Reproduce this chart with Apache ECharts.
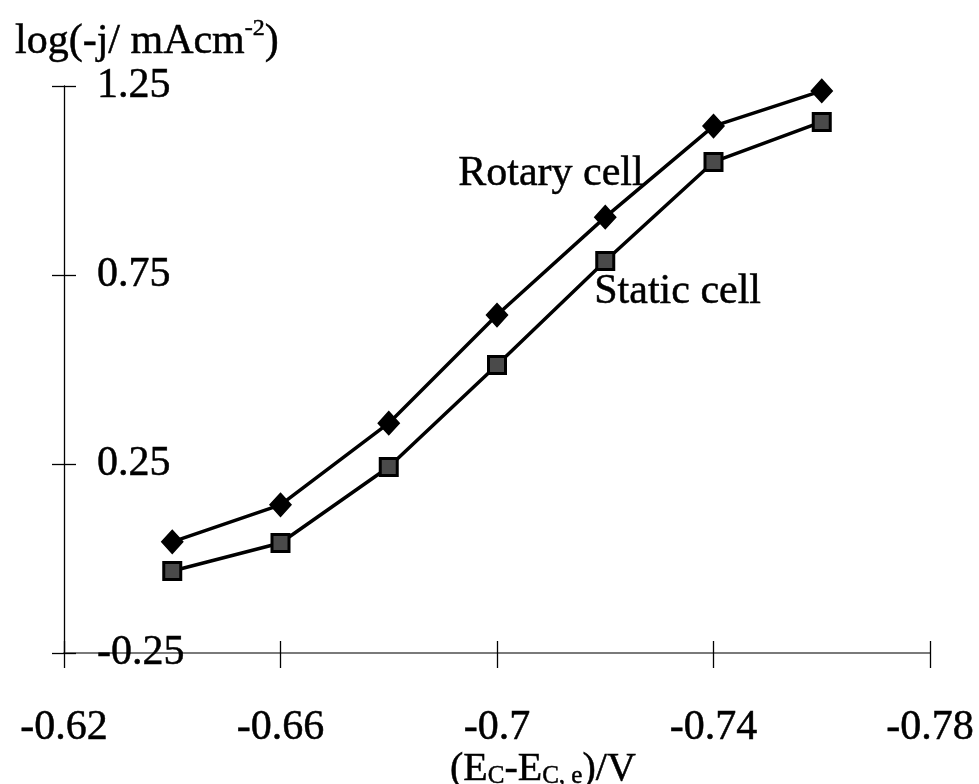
<!DOCTYPE html>
<html>
<head>
<meta charset="utf-8">
<script src="https://cdn.jsdelivr.net/npm/echarts@6/dist/echarts.min.js"></script>
<style>
  html, body { margin: 0; padding: 0; background: #fff; }
  #chart { width: 979px; height: 784px; }
</style>
</head>
<body>
<div id="chart"></div>
<script>
// Cathode potential relative to equilibrium, V
const potentials = [-0.64, -0.66, -0.68, -0.70, -0.72, -0.74, -0.76];
// log of cathodic current density, mA/cm2
const rotaryCell = [0.044, 0.142, 0.358, 0.644, 0.903, 1.144, 1.237];
const staticCell = [-0.033, 0.041, 0.242, 0.512, 0.787, 1.049, 1.155];
// axis ticks
const xTicks = [-0.62, -0.66, -0.70, -0.74, -0.78];
const yTicks = [-0.25, 0.25, 0.75, 1.25];

const FONT = "'Liberation Serif', 'DejaVu Serif', serif";
// a thin outline makes the serif text a little heavier
const INK = { color: '#000', textBorderColor: '#000', textBorderWidth: 0.5 };
const pairs = (ys) => potentials.map((x, i) => [x, ys[i]]);

const xMin = Math.min(...xTicks), xMax = Math.max(...xTicks);
const yMin = Math.min(...yTicks), yMax = Math.max(...yTicks);
const xStep = Math.abs(xTicks[1] - xTicks[0]);
const yStep = yTicks[1] - yTicks[0];

const chart = echarts.init(document.getElementById('chart'), null, { renderer: 'canvas' });

const baseX = {
  type: 'value', min: xMin, max: xMax, interval: xStep, inverse: true,
  position: 'bottom', splitLine: { show: false }
};
const baseY = {
  type: 'value', min: yMin, max: yMax, interval: yStep,
  position: 'left', splitLine: { show: false }
};
const rich = (size, lh, va) => Object.assign({
  fontFamily: FONT, fontSize: size, fontWeight: 'normal', lineHeight: lh, verticalAlign: va
}, INK);

chart.setOption({
  animation: false,
  backgroundColor: '#ffffff',
  title: [
    {
      text: '{a|log(-j/ mAcm}{s|-2}{a|)}',
      left: 10, top: 12,
      textStyle: {
        fontWeight: 'normal',
        rich: { a: rich(42, 46, 'bottom'), s: rich(24, 46, 'top') }
      }
    },
    {
      text: '{a|(E}{b|C}{a|-E}{b|C, e}{a|)/V}',
      left: 445, top: 740,
      textStyle: {
        fontWeight: 'normal',
        rich: { a: rich(40, 44, 'bottom'), b: rich(25, 38, 'bottom') }
      }
    }
  ],
  grid: { left: 64, right: 49, top: 86, bottom: 131, outerBoundsMode: 'none', containLabel: false },
  xAxis: [
    Object.assign({}, baseX, {
      axisLine: { show: true, onZero: false, lineStyle: { color: '#7a7a7a', width: 2 } },
      axisTick: { show: true, inside: false, length: 15, lineStyle: { color: '#000', width: 1.3 } },
      axisLabel: Object.assign({
        show: true, margin: 54, fontFamily: FONT, fontSize: 42,
        showMinLabel: true, showMaxLabel: true,
        formatter: (v) => String(+v.toFixed(2))
      }, INK)
    }),
    Object.assign({}, baseX, {
      axisLine: { show: false, onZero: false },
      axisTick: { show: true, inside: true, length: 12, lineStyle: { color: '#000', width: 1.3 } },
      axisLabel: { show: false }
    })
  ],
  yAxis: [
    Object.assign({}, baseY, {
      axisLine: { show: true, onZero: false, lineStyle: { color: '#000', width: 1.3 } },
      axisTick: { show: true, inside: false, length: 12, lineStyle: { color: '#000', width: 1.3 } },
      axisLabel: Object.assign({
        show: true, inside: true, margin: 33, fontFamily: FONT, fontSize: 42,
        showMinLabel: true, showMaxLabel: true,
        formatter: (v) => v.toFixed(2)
      }, INK)
    }),
    Object.assign({}, baseY, {
      axisLine: { show: false, onZero: false },
      axisTick: { show: true, inside: true, length: 12, lineStyle: { color: '#000', width: 1.3 } },
      axisLabel: { show: false }
    })
  ],
  graphic: [
    { type: 'text', left: 458, top: 153,
      style: { text: 'Rotary cell', font: '42px ' + FONT, fill: '#000', stroke: '#000', lineWidth: 0.5 } },
    { type: 'text', left: 594, top: 271,
      style: { text: 'Static cell', font: '42px ' + FONT, fill: '#000', stroke: '#000', lineWidth: 0.5 } }
  ],
  series: [
    {
      name: 'Rotary cell', type: 'line', xAxisIndex: 0, yAxisIndex: 0,
      data: pairs(rotaryCell),
      symbol: 'diamond', symbolSize: [21, 23],
      lineStyle: { color: '#000', width: 3.5 },
      itemStyle: { color: '#000', borderColor: '#000', borderWidth: 1.5 },
      z: 3
    },
    {
      name: 'Static cell', type: 'line', xAxisIndex: 0, yAxisIndex: 0,
      data: pairs(staticCell),
      symbol: 'rect', symbolSize: 17,
      lineStyle: { color: '#000', width: 3.5 },
      itemStyle: { color: '#4a4a4a', borderColor: '#000', borderWidth: 3 },
      z: 3
    }
  ]
});
</script>
</body>
</html>
